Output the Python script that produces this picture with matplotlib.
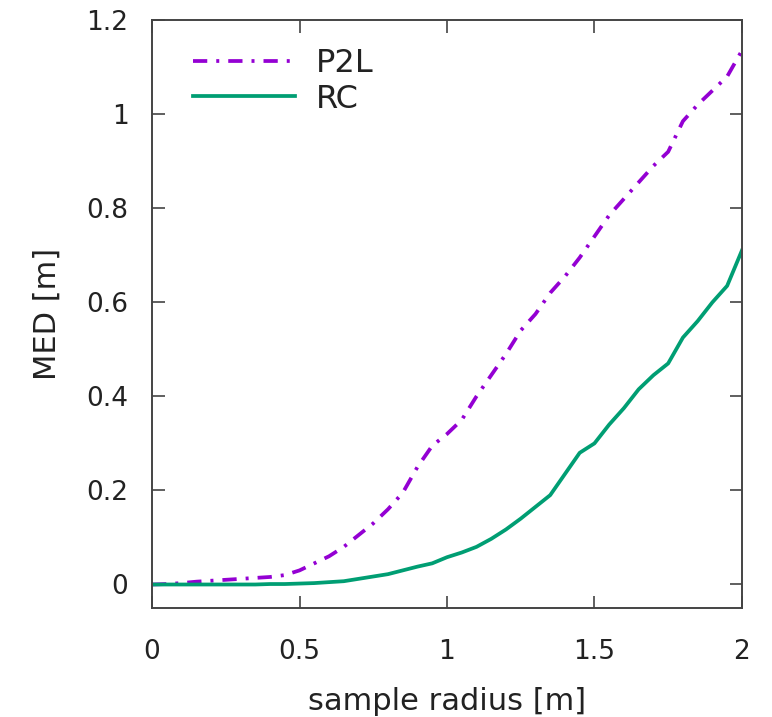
import matplotlib
matplotlib.use("Agg")
import matplotlib.pyplot as plt

# ---------------------------------------------------------------------------
# Data
# ---------------------------------------------------------------------------
radius = [0.00, 0.05, 0.10, 0.15, 0.20, 0.25, 0.30, 0.35, 0.40, 0.45,
          0.50, 0.55, 0.60, 0.65, 0.70, 0.75, 0.80, 0.85, 0.90, 0.95,
          1.00, 1.05, 1.10, 1.15, 1.20, 1.25, 1.30, 1.35, 1.40, 1.45,
          1.50, 1.55, 1.60, 1.65, 1.70, 1.75, 1.80, 1.85, 1.90, 1.95, 2.00]

med_p2l = [0.000, 0.001, 0.003, 0.006, 0.008, 0.010, 0.012, 0.014, 0.016, 0.020,
           0.030, 0.045, 0.060, 0.080, 0.105, 0.130, 0.160, 0.195, 0.250, 0.295,
           0.320, 0.350, 0.400, 0.445, 0.490, 0.540, 0.575, 0.620, 0.655, 0.695,
           0.740, 0.785, 0.820, 0.855, 0.890, 0.920, 0.985, 1.020, 1.050, 1.080, 1.135]

med_rc = [0.000, 0.000, 0.000, 0.000, 0.000, 0.000, 0.000, 0.000, 0.001, 0.001,
          0.002, 0.003, 0.005, 0.007, 0.012, 0.017, 0.022, 0.030, 0.038, 0.045,
          0.058, 0.068, 0.080, 0.097, 0.117, 0.140, 0.165, 0.190, 0.235, 0.280,
          0.300, 0.340, 0.375, 0.415, 0.445, 0.470, 0.525, 0.560, 0.600, 0.635, 0.710]

x_ticks = [0, 0.5, 1, 1.5, 2]
x_tick_labels = ["0", "0.5", "1", "1.5", "2"]
y_ticks = [0, 0.2, 0.4, 0.6, 0.8, 1.0, 1.2]
y_tick_labels = ["0", "0.2", "0.4", "0.6", "0.8", "1", "1.2"]

C_P2L = "#9400D3"
C_RC = "#009E73"
C_TEXT = "#222222"

fig = plt.figure(figsize=(7.72, 7.17), dpi=100)
ax = fig.add_axes([0.197, 0.152, 0.764, 0.820])

ax.plot(radius, med_p2l, color=C_P2L, lw=2.7,
        linestyle=(0, (3.8, 2.4, 0.8, 2.4)), label="P2L")
ax.plot(radius, med_rc, color=C_RC, lw=2.7, label="RC")

ax.set_xlim(0, 2)
ax.set_ylim(-0.05, 1.2)
ax.set_xticks(x_ticks)
ax.set_xticklabels(x_tick_labels)
ax.set_yticks(y_ticks)
ax.set_yticklabels(y_tick_labels)

ax.tick_params(direction="in", length=9, width=1.2, color="#444444",
               top=True, right=True, labelsize=19, labelcolor=C_TEXT)
ax.tick_params(axis="x", pad=22)
ax.tick_params(axis="y", pad=17)
for sp in ax.spines.values():
    sp.set_color("#444444")
    sp.set_linewidth(1.4)

ax.set_xlabel("sample radius [m]", fontsize=22, labelpad=16, color=C_TEXT)
ax.set_ylabel("MED [m]", fontsize=22, labelpad=18, color=C_TEXT)

ax.legend(loc="upper left", frameon=False, fontsize=23, handlelength=3.2,
          handletextpad=0.65, labelspacing=0.15, borderaxespad=0, borderpad=0,
          bbox_to_anchor=(0.0695, 0.953), labelcolor=C_TEXT)

fig.savefig("out.png", dpi=100)
